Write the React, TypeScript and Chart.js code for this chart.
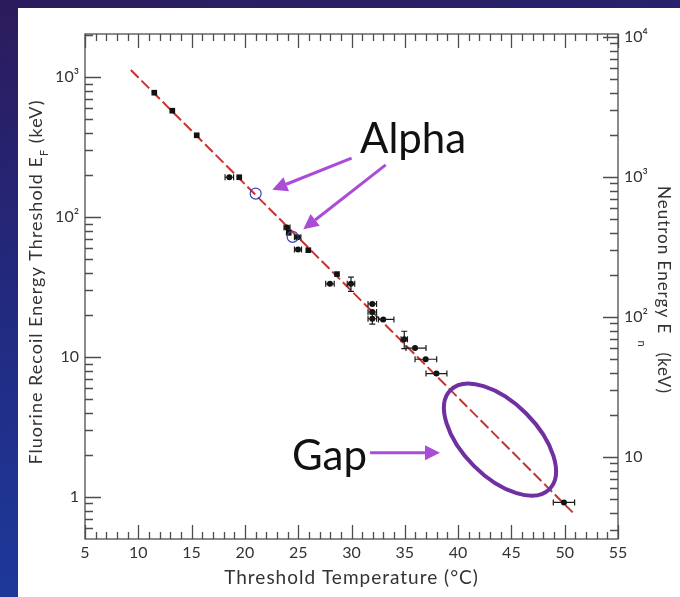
import React, { useEffect, useRef } from 'react';
import { Chart, registerables } from 'chart.js';

Chart.register(...registerables);

// ---------- axis ticks ----------
const xTickValues = [5, 10, 15, 20, 25, 30, 35, 40, 45, 50, 55];
const leftTickValues = [1, 10, 100, 1000];
const leftTickLabels = ['1', '10', '10²', '10³'];
const rightTickValues = [10, 100, 1000, 10000];
const rightTickLabels = ['10', '10²', '10³', '10⁴'];

// ---------- fit line ----------
const fitX = [9.3, 50.75];
const fitY = [1128, 0.776];

// ---------- square markers ----------
const squareX = [11.5, 13.19, 15.48, 19.47, 24.11, 25.95, 28.64];
const squareY = [776, 577, 385, 193, 77.3, 58.1, 39.2];

// ---------- circle markers with error bars ----------
const circleX = [18.54, 23.95, 24.95, 24.98, 27.98, 29.95, 31.95, 31.95, 31.95, 32.98, 34.95, 35.96, 36.96, 37.97, 49.93];
const circleY = [193, 84.3, 72.0, 58.7, 33.4, 33.4, 24.0, 21.0, 18.8, 18.6, 13.4, 11.6, 9.65, 7.62, 0.915];
const circleXErrMinus = [0.4, 0.28, 0.3, 0.33, 0.4, 0.35, 0.4, 0.4, 0.4, 0.45, 0.3, 0.85, 1.0, 0.98, 1.0];
const circleXErrPlus = [0.4, 0.28, 0.3, 0.33, 0.4, 0.35, 0.4, 0.4, 0.4, 1.0, 0.3, 1.03, 1.03, 0.98, 1.0];
const circleYErr = [0, 0, 0, 0, 0, 3.9, 0, 0, 1.6, 0, 1.9, 0, 0, 0, 0];

// ---------- alpha (open circles) ----------
const alphaX = [21.01, 24.48];
const alphaY = [147.5, 72.3];

// ---------- annotation anchors (data units) ----------
const alphaLabelAt = [30.8, 286];
const alphaArrows = [
  [30.01, 264, 22.57, 157],
  [33.21, 236.5, 25.48, 82.1],
];
const gapLabelAt = [24.42, 1.567];
const gapArrow = [31.74, 2.07, 38.3, 2.07];
const gapEllipseAt = [43.93, 2.57];

const W = 680;
const H = 597;
const FONT = "Lato, 'DejaVu Sans', sans-serif";

function drawArrow(ctx: CanvasRenderingContext2D, x1: number, y1: number, x2: number, y2: number, color: string) {
  const ang = Math.atan2(y2 - y1, x2 - x1);
  const hl = 15;
  const hw = 7.5;
  const bx = x2 - hl * Math.cos(ang);
  const by = y2 - hl * Math.sin(ang);
  ctx.strokeStyle = color;
  ctx.lineWidth = 3;
  ctx.beginPath();
  ctx.moveTo(x1, y1);
  ctx.lineTo(bx, by);
  ctx.stroke();
  ctx.fillStyle = color;
  ctx.beginPath();
  ctx.moveTo(x2, y2);
  ctx.lineTo(bx + hw * Math.sin(ang), by - hw * Math.cos(ang));
  ctx.lineTo(bx - hw * Math.sin(ang), by + hw * Math.cos(ang));
  ctx.closePath();
  ctx.fill();
}

function setSpacing(ctx: any, px: number) {
  if ('letterSpacing' in ctx) ctx.letterSpacing = `${px}px`;
}

export default function App() {
  const ref = useRef<HTMLCanvasElement>(null);

  useEffect(() => {
    const canvas = ref.current!;

    const bgPlugin = {
      id: 'bgPanel',
      beforeDraw(chart: any) {
        const ctx = chart.ctx;
        ctx.save();
        const g = ctx.createLinearGradient(0, 0, 120, H);
        g.addColorStop(0, '#2c1b5c');
        g.addColorStop(0.5, '#222a80');
        g.addColorStop(1, '#1d3a9c');
        ctx.fillStyle = g;
        ctx.fillRect(0, 0, W, H);
        ctx.fillStyle = '#ffffff';
        ctx.fillRect(18, 8, W - 18, H - 8);
        ctx.restore();
      },
    };

    const errPlugin = {
      id: 'errBars',
      afterDatasetsDraw(chart: any) {
        const ctx = chart.ctx;
        const xs = chart.scales.x;
        const ys = chart.scales.y;
        ctx.save();
        ctx.strokeStyle = '#1a1a1a';
        ctx.lineWidth = 1.2;
        ctx.beginPath();
        for (let i = 0; i < circleX.length; i++) {
          const py = ys.getPixelForValue(circleY[i]);
          const px = xs.getPixelForValue(circleX[i]);
          const xl = xs.getPixelForValue(circleX[i] - circleXErrMinus[i]);
          const xr = xs.getPixelForValue(circleX[i] + circleXErrPlus[i]);
          ctx.moveTo(xl, py); ctx.lineTo(xr, py);
          ctx.moveTo(xl, py - 3); ctx.lineTo(xl, py + 3);
          ctx.moveTo(xr, py - 3); ctx.lineTo(xr, py + 3);
          if (circleYErr[i] > 0) {
            const yt = ys.getPixelForValue(circleY[i] + circleYErr[i]);
            const yb = ys.getPixelForValue(circleY[i] - circleYErr[i]);
            ctx.moveTo(px, yt); ctx.lineTo(px, yb);
            ctx.moveTo(px - 3, yt); ctx.lineTo(px + 3, yt);
            ctx.moveTo(px - 3, yb); ctx.lineTo(px + 3, yb);
          }
        }
        ctx.stroke();
        ctx.restore();
      },
    };

    const framePlugin = {
      id: 'frameTicks',
      afterDraw(chart: any) {
        const ctx = chart.ctx;
        const a = chart.chartArea;
        const xs = chart.scales.x;
        const ys = chart.scales.y;
        const ys2 = chart.scales.y2;
        ctx.save();
        ctx.strokeStyle = '#4d4d4d';
        ctx.lineWidth = 1.3;
        ctx.strokeRect(a.left, a.top, a.right - a.left, a.bottom - a.top);
        ctx.beginPath();
        for (let v = 5; v <= 55; v++) {
          const px = Math.round(xs.getPixelForValue(v)) + 0.5;
          const len = v % 5 === 0 ? 14 : 7;
          ctx.moveTo(px, a.bottom); ctx.lineTo(px, a.bottom - len);
          ctx.moveTo(px, a.top); ctx.lineTo(px, a.top + len);
        }
        for (let d = 0.1; d <= 1000; d *= 10) {
          for (let m = 1; m <= 9; m++) {
            const v = d * m;
            if (v < ys.min || v > ys.max) continue;
            const py = Math.round(ys.getPixelForValue(v)) + 0.5;
            const len = m === 1 ? 16 : 8;
            ctx.moveTo(a.left, py); ctx.lineTo(a.left + len, py);
          }
        }
        for (let d = 1; d <= 10000; d *= 10) {
          for (let m = 1; m <= 9; m++) {
            const v = d * m;
            if (v < ys2.min || v > ys2.max) continue;
            const py = Math.round(ys2.getPixelForValue(v)) + 0.5;
            const len = m === 1 ? 15 : 8;
            ctx.moveTo(a.right, py); ctx.lineTo(a.right - len, py);
          }
        }
        ctx.stroke();

        // x axis title
        ctx.fillStyle = '#333333';
        ctx.textBaseline = 'middle';
        ctx.font = `19px ${FONT}`;
        ctx.textAlign = 'center';
        setSpacing(ctx, 1);
        ctx.fillText('Threshold Temperature (°C)', (a.left + a.right) / 2, 578);

        // left title (rotated, with subscript F)
        ctx.save();
        ctx.translate(36, 282);
        ctx.rotate(-Math.PI / 2);
        ctx.textAlign = 'left';
        setSpacing(ctx, 1);
        const lMain = 'Fluorine Recoil Energy Threshold E';
        const lSub = 'F';
        const lTail = ' (keV)';
        ctx.font = `18px ${FONT}`;
        const w1 = ctx.measureText(lMain).width;
        const w3 = ctx.measureText(lTail).width;
        ctx.font = `11px ${FONT}`;
        const w2 = ctx.measureText(lSub).width;
        const total = w1 + w2 + w3;
        let sx = -total / 2;
        ctx.font = `18px ${FONT}`;
        ctx.fillText(lMain, sx, 0);
        sx += w1;
        ctx.font = `11px ${FONT}`;
        ctx.fillText(lSub, sx, 8);
        sx += w2;
        ctx.font = `18px ${FONT}`;
        ctx.fillText(lTail, sx, 0);
        ctx.restore();

        // right title (rotated, with subscript n)
        ctx.save();
        ctx.translate(663, 186);
        ctx.rotate(Math.PI / 2);
        ctx.textAlign = 'left';
        setSpacing(ctx, 1);
        ctx.font = `17px ${FONT}`;
        const rMain = 'Neutron Energy E';
        ctx.fillText(rMain, 0, 0);
        const rw = ctx.measureText(rMain).width;
        ctx.font = `11px ${FONT}`;
        ctx.fillText('n', rw + 6, 21);
        ctx.font = `17px ${FONT}`;
        ctx.fillText('(keV)', rw + 18, 0);
        ctx.restore();
        setSpacing(ctx, 0);

        // annotations
        const P = (x: number, y: number) => [xs.getPixelForValue(x), ys.getPixelForValue(y)];
        ctx.fillStyle = '#111111';
        ctx.textBaseline = 'alphabetic';
        ctx.textAlign = 'left';
        ctx.font = `42px ${FONT}`;
        const [ax, ay] = P(alphaLabelAt[0], alphaLabelAt[1]);
        ctx.fillText('Alpha', ax, ay);
        const [gx, gy] = P(gapLabelAt[0], gapLabelAt[1]);
        ctx.fillText('Gap', gx, gy);
        const arrowColor = '#ab4cd6';
        for (const ar of alphaArrows) {
          const [x1, y1] = P(ar[0], ar[1]);
          const [x2, y2] = P(ar[2], ar[3]);
          drawArrow(ctx, x1, y1, x2, y2, arrowColor);
        }
        {
          const [x1, y1] = P(gapArrow[0], gapArrow[1]);
          const [x2, y2] = P(gapArrow[2], gapArrow[3]);
          drawArrow(ctx, x1, y1, x2, y2, arrowColor);
        }
        const [ex, ey] = P(gapEllipseAt[0], gapEllipseAt[1]);
        ctx.strokeStyle = '#7030a0';
        ctx.lineWidth = 4;
        ctx.beginPath();
        ctx.ellipse(ex, ey, 70, 37, Math.PI / 4, 0, Math.PI * 2);
        ctx.stroke();
        ctx.restore();
      },
    };

    const tickFont = { family: FONT, size: 16 };

    const chart = new Chart(canvas, {
      type: 'scatter',
      data: {
        datasets: [
          {
            type: 'line',
            label: 'fit',
            data: fitX.map((x, i) => ({ x, y: fitY[i] })),
            borderColor: '#c43434',
            borderWidth: 2,
            borderDash: [11, 4],
            pointRadius: 0,
            fill: false,
            order: 10,
          } as any,
          {
            label: 'squares',
            data: squareX.map((x, i) => ({ x, y: squareY[i] })),
            pointStyle: 'rect',
            pointRadius: 4,
            backgroundColor: '#111111',
            borderColor: '#111111',
            borderWidth: 0,
            order: 1,
          },
          {
            label: 'circles',
            data: circleX.map((x, i) => ({ x, y: circleY[i] })),
            pointStyle: 'circle',
            pointRadius: 3,
            backgroundColor: '#111111',
            borderColor: '#111111',
            borderWidth: 0,
            order: 1,
          },
          {
            label: 'alpha',
            data: alphaX.map((x, i) => ({ x, y: alphaY[i] })),
            pointStyle: 'circle',
            pointRadius: 5.5,
            backgroundColor: 'rgba(0,0,0,0)',
            borderColor: '#4040b8',
            borderWidth: 1.2,
            order: 0,
          },
        ],
      },
      options: {
        responsive: false,
        animation: false,
        devicePixelRatio: 1,
        layout: { padding: { top: 34, left: 0, right: 0, bottom: 0 } },
        plugins: {
          legend: { display: false },
          tooltip: { enabled: false },
        },
        scales: {
          x: {
            type: 'linear',
            position: 'bottom',
            min: 5,
            max: 55,
            afterBuildTicks: (ax: any) => { ax.ticks = xTickValues.map((v) => ({ value: v })); },
            ticks: { font: tickFont, color: '#333333', padding: 4, maxRotation: 0, autoSkip: false },
            grid: { display: false, drawTicks: false },
            border: { display: false },
            afterFit: (s: any) => { s.height = 58; },
          },
          y: {
            type: 'logarithmic',
            position: 'left',
            min: 0.501,
            max: 2039,
            afterBuildTicks: (ax: any) => { ax.ticks = leftTickValues.map((v) => ({ value: v })); },
            ticks: {
              font: tickFont,
              color: '#333333',
              padding: 6,
              autoSkip: false,
              callback: (_v: any, i: number) => leftTickLabels[i],
            },
            grid: { display: false, drawTicks: false },
            border: { display: false },
            afterFit: (s: any) => { s.width = 85; },
          },
          y2: {
            type: 'logarithmic',
            position: 'right',
            min: 2.6,
            max: 10506,
            afterBuildTicks: (ax: any) => { ax.ticks = rightTickValues.map((v) => ({ value: v })); },
            ticks: {
              font: tickFont,
              color: '#333333',
              padding: 6,
              autoSkip: false,
              callback: (_v: any, i: number) => rightTickLabels[i],
            },
            grid: { display: false, drawTicks: false },
            border: { display: false },
            afterFit: (s: any) => { s.width = 62; },
          },
        },
      } as any,
      plugins: [bgPlugin, errPlugin, framePlugin],
    });

    return () => chart.destroy();
  }, []);

  return (
    <div style={{ position: 'absolute', left: 0, top: 0, width: W, height: H, overflow: 'hidden' }}>
      <canvas ref={ref} width={W} height={H} style={{ display: 'block' }} />
    </div>
  );
}
